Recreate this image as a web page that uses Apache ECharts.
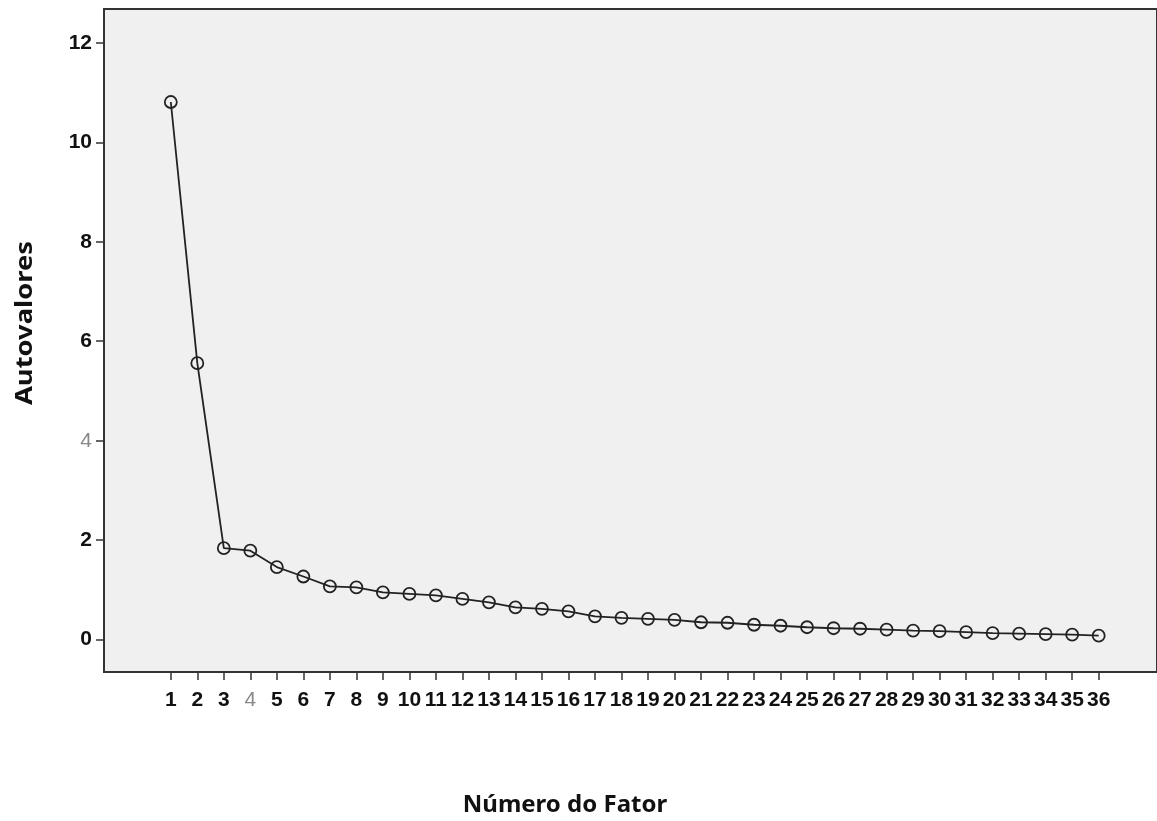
<!DOCTYPE html>
<html>
<head>
<meta charset="utf-8">
<script src="https://cdn.jsdelivr.net/npm/echarts@6/dist/echarts.min.js"></script>
<style>
html,body{margin:0;padding:0;background:#fff;}
#chart{width:1157px;height:821px;}
</style>
</head>
<body>
<div id="chart"></div>
<script>
const factors = [1,2,3,4,5,6,7,8,9,10,11,12,13,14,15,16,17,18,19,20,21,22,23,24,25,26,27,28,29,30,31,32,33,34,35,36];
const eigenvalues = [10.81,5.56,1.84,1.79,1.46,1.27,1.07,1.05,0.95,0.92,0.89,0.82,0.75,0.65,0.62,0.57,0.47,0.44,0.42,0.40,0.35,0.34,0.30,0.28,0.25,0.23,0.22,0.20,0.18,0.17,0.15,0.13,0.12,0.11,0.10,0.08];
const yTicks = [0,2,4,6,8,10,12];
const xTitle = 'Número do Fator';
const yTitle = 'Autovalores';

const chart = echarts.init(document.getElementById('chart'), null, {renderer:'canvas'});
const labelRich = {
  b:{fontFamily:'Liberation Sans', fontWeight:'bold', fontSize:21, color:'#111'},
  g:{fontFamily:'Liberation Sans', fontWeight:'normal', fontSize:21, color:'#888'}
};
function fmt(v){ return v === 4 ? '{g|4}' : '{b|' + v + '}'; }

chart.setOption({
  animation:false,
  backgroundColor:'#fff',
  grid:{left:104, top:9, right:-4, bottom:149, show:true, backgroundColor:'#f0f0f0', borderColor:'#333', borderWidth:2},
  xAxis:{
    type:'value', min:-1.52, max:38.2,
    axisLine:{show:true, onZero:false, lineStyle:{color:'#333', width:2}},
    splitLine:{show:false},
    axisTick:{show:true, inside:false, length:8, lineStyle:{color:'#333', width:1.5}, customValues:factors},
    axisLabel:{customValues:factors, formatter:fmt, rich:labelRich, margin:18}
  },
  yAxis:{
    type:'value', min:-0.65, max:12.68,
    axisLine:{show:true, onZero:false, lineStyle:{color:'#333', width:2}},
    splitLine:{show:false},
    axisTick:{show:true, inside:false, length:8, lineStyle:{color:'#333', width:1.5}, customValues:yTicks},
    axisLabel:{customValues:yTicks, formatter:fmt, rich:labelRich, margin:12}
  },
  graphic:[
    {type:'text', x:565, y:805, style:{text:xTitle, font:'bold 24px "Noto Sans"', fill:'#111', textAlign:'center', textVerticalAlign:'middle'}},
    {type:'text', rotation:Math.PI/2, scaleX:1.14, x:25, y:323, style:{text:yTitle, font:'bold 24px "Noto Sans"', fill:'#111', textAlign:'center', textVerticalAlign:'middle'}}
  ],
  series:[{
    type:'line',
    data:factors.map((f,i)=>[f, eigenvalues[i]]),
    symbol:'circle', symbolSize:12,
    itemStyle:{color:'rgba(0,0,0,0)', borderColor:'#222', borderWidth:1.8},
    lineStyle:{color:'#222', width:1.8}
  }]
});
</script>
</body>
</html>
